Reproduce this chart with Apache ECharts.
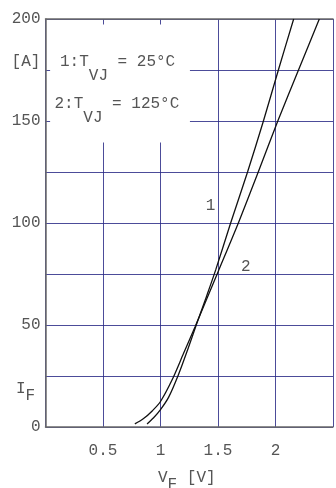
<!DOCTYPE html>
<html><head><meta charset="utf-8">
<script src="https://cdn.jsdelivr.net/npm/echarts@6/dist/echarts.min.js"></script>
<style>html,body{margin:0;padding:0;background:#fff}#c{width:336px;height:488px}</style>
</head><body><div id="c"></div>
<script>
// Forward characteristic I_F vs V_F
const vf25  = [0.883, 0.94, 1.0, 1.07, 1.155, 1.24, 1.32, 1.40, 1.48, 1.61, 1.757, 1.895, 2.025, 2.158];
const if25  = [1.5,   4.5,  8.5, 14.5, 25.5,  38.5, 51.5, 64,   77,   100,  125,   150,   175,   200];
const vf125 = [0.777, 0.85, 0.93, 1.0,  1.1, 1.2, 1.3, 1.4,  1.5,  1.677, 1.85, 2.02, 2.2, 2.381];
const if125 = [1.5,   4,    8,    12.5, 23,  36,  49,  62.5, 76,   100,   125,  150,  175, 200];
const xTickLabels = [0.5, 1, 1.5, 2];
const yTickLabels = [0, 50, 100, 150, 200];
const curveNames = ['1', '2'];
const curveLabelPos = [[1.436, 108.5], [1.742, 78.6]];
const legendTemps = ['25°C', '125°C'];

const FONT = '"Liberation Mono", "DejaVu Sans Mono", monospace';
const TXT = '#555';
const GRID = 'rgba(45,45,135,0.85)';
const AX = '#6a6a6a';

const zip = (a, b) => a.map((v, i) => [v, b[i]]);

const chart = echarts.init(document.getElementById('c'), null, {renderer: 'canvas'});
const richSub = (pad) => ({
  n: {fontSize: 16, fontFamily: FONT, fill: TXT, lineHeight: 20},
  s: {fontSize: 16, fontFamily: FONT, fill: TXT, lineHeight: 20, padding: [pad, 0, 0, 0]}
});
chart.setOption({
  animation: false,
  grid: {left: 45.5, top: 19, width: 291, height: 408},
  xAxis: [{
    type: 'value', min: 0, max: 2.5, interval: 0.5,
    axisLine: {show: true, lineStyle: {color: AX, width: 1.5}},
    axisTick: {show: false},
    splitLine: {show: true, lineStyle: {color: GRID, width: 1}},
    axisLabel: {
      margin: 16, color: TXT, fontFamily: FONT, fontSize: 16,
      formatter: v => xTickLabels.includes(v) ? String(v) : ''
    }
  }, {
    type: 'value', min: 0, max: 2.5, position: 'top',
    axisLine: {show: true, lineStyle: {color: AX, width: 1.5}},
    axisTick: {show: false}, axisLabel: {show: false}, splitLine: {show: false}
  }],
  yAxis: {
    type: 'value', min: 0, max: 200, interval: 25,
    axisLine: {show: true, lineStyle: {color: AX, width: 1.5}},
    axisTick: {show: false},
    splitLine: {show: true, lineStyle: {color: GRID, width: 1}},
    axisLabel: {
      margin: 5, color: TXT, fontFamily: FONT, fontSize: 16,
      formatter: v => yTickLabels.includes(v) ? String(v) : ''
    }
  },
  series: [{
    type: 'line', name: curveNames[0], data: zip(vf25, if25), smooth: 0.3,
    showSymbol: false, lineStyle: {color: '#111', width: 1.3}, z: 3,
    markArea: {
      silent: true, itemStyle: {color: '#ffffff', opacity: 1},
      data: [[{xAxis: 0.04, yAxis: 139.5}, {xAxis: 1.256, yAxis: 197.3}]]
    },
    markPoint: {
      symbol: 'circle', symbolSize: 0, silent: true,
      label: {show: true, formatter: curveNames[0], color: TXT, fontFamily: FONT, fontSize: 16, position: 'inside'},
      data: [{coord: curveLabelPos[0]}]
    }
  }, {
    type: 'line', name: curveNames[1], data: zip(vf125, if125), smooth: 0.3,
    showSymbol: false, lineStyle: {color: '#111', width: 1.3}, z: 3,
    markPoint: {
      symbol: 'circle', symbolSize: 0, silent: true,
      label: {show: true, formatter: curveNames[1], color: TXT, fontFamily: FONT, fontSize: 16, position: 'inside'},
      data: [{coord: curveLabelPos[1]}]
    }
  }],
  graphic: [
    {type: 'text', z: 100, style: {text: '[A]', x: 26, y: 61.5, align: 'center', verticalAlign: 'middle', font: '16px ' + FONT, fill: TXT}},
    {type: 'text', z: 100, style: {text: '{n|1:T}{s|VJ}{n| = ' + legendTemps[0] + '}', x: 60, y: 62, verticalAlign: 'middle', rich: richSub(28)}},
    {type: 'text', z: 100, style: {text: '{n|2:T}{s|VJ}{n| = ' + legendTemps[1] + '}', x: 54.5, y: 103.5, verticalAlign: 'middle', rich: richSub(28)}},
    {type: 'text', z: 100, style: {text: '{n|I}{s|F}', x: 16, y: 389, verticalAlign: 'middle', rich: richSub(14)}},
    {type: 'text', z: 100, style: {text: '{n|V}{s|F}{n| [V]}', x: 158, y: 478, verticalAlign: 'middle', rich: richSub(13)}}
  ]
});
</script></body></html>
